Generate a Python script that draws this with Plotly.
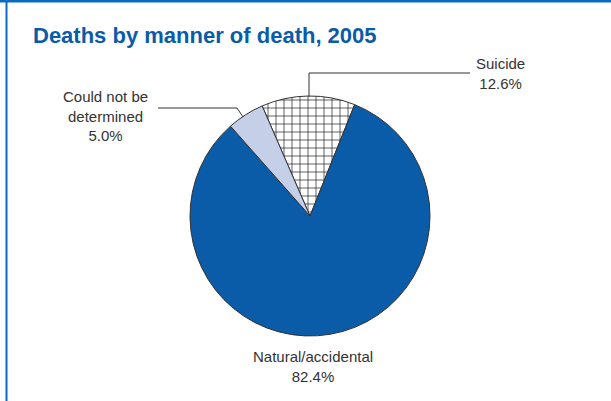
import plotly.graph_objects as go

# data
labels = ["Suicide", "Natural/accidental", "Could not be determined"]
shares = [12.6, 82.4, 5.0]
label_text = ["Suicide<br>12.6%", "Natural/accidental<br>82.4%", "Could not be<br>determined<br>5.0%"]
colors = ["#ffffff", "#0a5ca8", "#c6cfe8"]

W, H = 611, 401
BLUE = "#0a5ca8"
TEXT = "#333333"
FONT = "Liberation Sans, Arial, sans-serif"


def px(x):
    return x / W


def py(y):
    return 1 - y / H


fig = go.Figure(go.Pie(
    labels=labels,
    values=shares,
    sort=False,
    direction="clockwise",
    rotation=-23.5,
    textinfo="none",
    hoverinfo="label+percent",
    marker=dict(
        colors=colors,
        line=dict(color="#333333", width=1),
        pattern=dict(shape=["+", "", ""], fgcolor="#222222", bgcolor="#ffffff",
                     size=8, solidity=0.17),
    ),
    domain=dict(x=[px(190), px(430)], y=[py(336), py(96)]),
    showlegend=False,
))

# labels placed around the pie
label_pos = [(500, 73), (313, 366), (105, 116)]
for txt, (x, y) in zip(label_text, label_pos):
    fig.add_annotation(x=px(x), y=py(y), xref="paper", yref="paper", text=txt,
                       showarrow=False, align="center", xanchor="center", yanchor="middle",
                       font=dict(family=FONT, size=15, color=TEXT))

# leader lines
leaders = [
    [(309, 97), (309, 73), (470, 73)],
    [(243, 117), (237, 108), (158, 108)],
]
for pts in leaders:
    path = "M " + " L ".join(f"{px(x)},{py(y)}" for x, y in pts)
    fig.add_shape(type="path", path=path, xref="paper", yref="paper",
                  line=dict(color=TEXT, width=1))

# frame: top rule and left rule
fig.add_shape(type="line", xref="paper", yref="paper", x0=0, x1=1, y0=py(1), y1=py(1),
              line=dict(color="#0a6bc0", width=3))
fig.add_shape(type="line", xref="paper", yref="paper", x0=px(6.5), x1=px(6.5), y0=0, y1=1,
              line=dict(color="#0a6bc0", width=2))

fig.update_layout(
    width=W, height=H,
    margin=dict(l=0, r=0, t=0, b=0),
    paper_bgcolor="white", plot_bgcolor="white",
    title=dict(text="<b>Deaths by manner of death, 2005</b>", x=px(33), xanchor="left",
               y=py(35), yanchor="middle",
               font=dict(family=FONT, size=22, color=BLUE)),
)

fig.write_html("out.html", config={"displayModeBar": False},
               post_script="document.body.style.margin='0';")
